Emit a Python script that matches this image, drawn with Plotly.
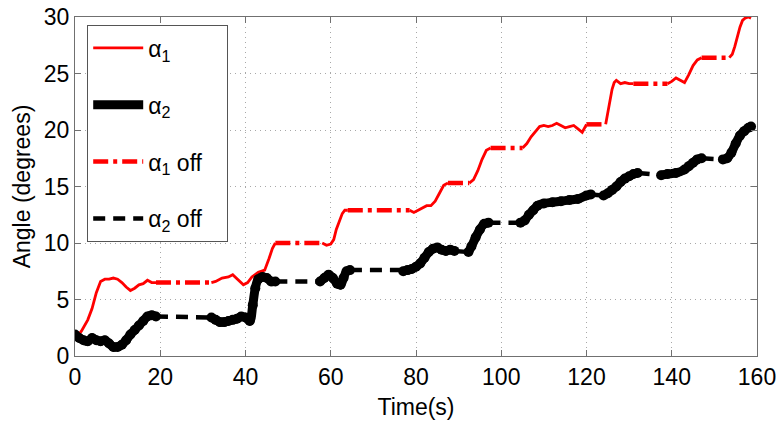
import plotly.graph_objects as go

# ---------------- data ----------------
# alpha_1 "on" segments (None separates segments)
t_a1 = [0, 1.5, 3, 4, 5, 6, 7, 8, 9, 10, 11, 12, 13, 14, 15, 16, 17, 18, 19, None,
        32, 33, 34.5, 36, 37, 38.3, 39.5, 40.5, 41.5, 43, 44.5, 45.5, 46.3, 47, None,
        58, 59, 60, 60.7, 61.3, 62, 62.7, 63.3, 64, None,
        78.5, 79.5, 80.5, 81.5, 82.5, 83.5, 84.5, 85.5, 86.5, 87.5, None,
        92.5, 93.5, 94.5, 95.5, 96.5, 97.5, None,
        105, 106, 107, 108, 109, 110, 111, 112, 113, 114, 115, 116, 117, 118, 119, 120, None,
        124.5, 125, 125.5, 126, 126.5, 127, 128, 129, 130, 131, None,
        139, 140, 141, 142, 143, 144, 145, 146, 147, None,
        153.5, 154.2, 154.8, 155.4, 156, 156.6, 157.2, 158, 158.6]
a1 = [1.5, 2.2, 3.2, 4.2, 5.6, 6.6, 6.8, 6.8, 6.9, 6.8, 6.5, 6.1, 5.8, 6.0, 6.3, 6.4, 6.7, 6.5, 6.5, None,
      6.5, 6.6, 6.9, 7.0, 7.2, 6.7, 6.3, 6.5, 7.0, 7.4, 7.6, 8.6, 9.5, 10.0, None,
      10.0, 9.8, 9.9, 10.3, 11.2, 12.0, 12.6, 12.9, 12.9, None,
      12.9, 12.7, 12.9, 13.1, 13.3, 13.3, 13.7, 14.4, 15.1, 15.3, None,
      15.3, 15.6, 16.4, 17.4, 18.2, 18.4, None,
      18.4, 18.8, 19.4, 19.9, 20.3, 20.4, 20.3, 20.4, 20.6, 20.4, 20.2, 20.3, 20.4, 20.1, 19.8, 20.5, None,
      20.5, 21.5, 22.6, 23.6, 24.2, 24.4, 24.1, 24.2, 24.1, 24.1, None,
      24.1, 24.3, 24.6, 24.4, 24.2, 24.9, 25.7, 26.2, 26.4, None,
      26.4, 26.7, 27.4, 28.3, 29.1, 29.7, 29.9, 30.0, 29.9]

# alpha_1 "off" intervals
t_a1_off = [19, 32, None, 47, 58, None, 64, 78.5, None, 87.5, 92.5, None,
            97.5, 105, None, 120, 124.5, None, 131, 139, None, 147, 153.5]
a1_off = [6.5, 6.5, None, 10.0, 10.0, None, 12.9, 12.9, None, 15.3, 15.3, None,
          18.4, 18.4, None, 20.5, 20.5, None, 24.1, 24.1, None, 26.4, 26.4]

# alpha_2 "on" segments
t_a2 = [0, 1, 2, 3, 4, 5, 6, 7, 8, 9, 10, 11, 12, 13, 14, 15, 16, 17, 18, 19, None,
        32, 33, 34, 35, 36, 37, 38, 39, 40, 41, 41.7, 42.3, 43, 44, 45, 46, 47, None,
        57.5, 58.5, 59.5, 60.5, 61.5, 62.3, 63, 63.7, 64.5, None,
        77, 78, 79, 80, 81, 82, 83, 84, 85, 86, 87, 88, 89, None,
        92.3, 93, 94, 95, 96, 97, None,
        104.5, 105.5, 106.5, 107.5, 108.5, 110, 112, 114, 116, 118, 120, 121, None,
        124, 125, 126, 127, 128, 129, 130, 131, 132, None,
        137.5, 139, 141, 143, 144, 145, 146, 147, None,
        152, 153, 154, 155, 156, 157, 158, 158.6]
a2 = [1.9, 1.6, 1.4, 1.3, 1.6, 1.4, 1.3, 1.4, 1.1, 0.8, 0.8, 1.0, 1.4, 1.9, 2.3, 2.7, 3.1, 3.5, 3.6, 3.5, None,
      3.4, 3.2, 3.0, 3.0, 3.1, 3.2, 3.3, 3.5, 3.4, 3.1, 4.5, 6.0, 6.8, 7.0, 6.9, 6.6, 6.6, None,
      6.6, 6.9, 7.2, 6.9, 6.4, 6.3, 6.9, 7.5, 7.6, None,
      7.5, 7.6, 7.7, 7.9, 8.2, 8.7, 9.2, 9.5, 9.6, 9.4, 9.3, 9.4, 9.3, None,
      9.2, 9.7, 10.5, 11.2, 11.7, 11.8, None,
      11.8, 12.0, 12.5, 12.9, 13.3, 13.5, 13.6, 13.7, 13.8, 13.9, 14.2, 14.3, None,
      14.2, 14.4, 14.7, 15.0, 15.4, 15.7, 15.9, 16.1, 16.2, None,
      16.0, 16.1, 16.2, 16.5, 16.8, 17.1, 17.4, 17.5, None,
      17.4, 17.5, 18.0, 18.8, 19.5, 19.9, 20.2, 20.3]

# alpha_2 "off" intervals
t_a2_off = [19, 32, None, 47, 57.5, None, 64.5, 77, None, 89, 92.3, None,
            97, 104.5, None, 121, 124, None, 132, 137.5, None, 147, 152]
a2_off = [3.5, 3.4, None, 6.6, 6.6, None, 7.6, 7.6, None, 9.3, 9.2, None,
          11.8, 11.8, None, 14.3, 14.2, None, 16.2, 16.0, None, 17.5, 17.4]

x_ticks = [0, 20, 40, 60, 80, 100, 120, 140, 160]
y_ticks = [0, 5, 10, 15, 20, 25, 30]
legend_names = ["α<sub>1</sub>", "α<sub>2</sub>", "α<sub>1</sub> off", "α<sub>2</sub> off"]

FONT = "Liberation Sans, Arial, sans-serif"
PAD = "\u00a0\u00a0\u00a0"

fig = go.Figure()
fig.add_trace(go.Scatter(x=t_a1, y=a1, mode="lines", name=legend_names[0] + PAD,
                         line=dict(color="#ff0000", width=2.8), legendgroup="a1"))
# thick black curve: line + dense round markers
fig.add_trace(go.Scatter(x=t_a2, y=a2, mode="lines", name=legend_names[1] + PAD,
                         line=dict(color="#000000", width=9, shape="spline"), legendgroup="a2"))
fig.add_trace(go.Scatter(x=t_a2, y=a2, mode="markers", showlegend=False,
                         marker=dict(color="#000000", size=10), legendgroup="a2"))
fig.add_trace(go.Scatter(x=t_a1_off, y=a1_off, mode="lines", name=legend_names[2] + PAD,
                         line=dict(color="#ff0000", width=4.5, dash="15px,5px,4px,5px"),
                         legendgroup="a1off"))
fig.add_trace(go.Scatter(x=t_a2_off, y=a2_off, mode="lines", name=legend_names[3] + PAD,
                         line=dict(color="#000000", width=4.5, dash="12px,8px"),
                         legendgroup="a2off"))

axis_common = dict(
    showgrid=True, gridcolor="#a8a8a8", griddash="1px,4px", gridwidth=1,
    zeroline=False, showline=True, linecolor="#707070", linewidth=1.2,
    mirror="allticks", ticks="inside", ticklen=6, tickcolor="#707070",
    tickfont=dict(family=FONT, size=23, color="#000"),
    ticklabeloverflow="allow", automargin=False,
)

fig.update_layout(
    width=776, height=435,
    margin=dict(l=75, r=19, t=17, b=79, autoexpand=False),
    paper_bgcolor="white", plot_bgcolor="white",
    font=dict(family=FONT, size=23, color="#000"),
    xaxis=dict(range=[0, 160], tickvals=x_ticks,
               title=dict(text="Time(s)", font=dict(family=FONT, size=23), standoff=10),
               **axis_common),
    yaxis=dict(range=[0, 30], tickvals=y_ticks,
               title=dict(text="Angle (degrees)", font=dict(family=FONT, size=23), standoff=6),
               **axis_common),
    legend=dict(x=0.0176, y=0.976, xanchor="left", yanchor="top",
                bgcolor="white", bordercolor="#555", borderwidth=1.2,
                font=dict(family=FONT, size=23), tracegroupgap=24,
                traceorder="grouped", itemwidth=50),
    showlegend=True,
)

fig.write_html("out.html")
